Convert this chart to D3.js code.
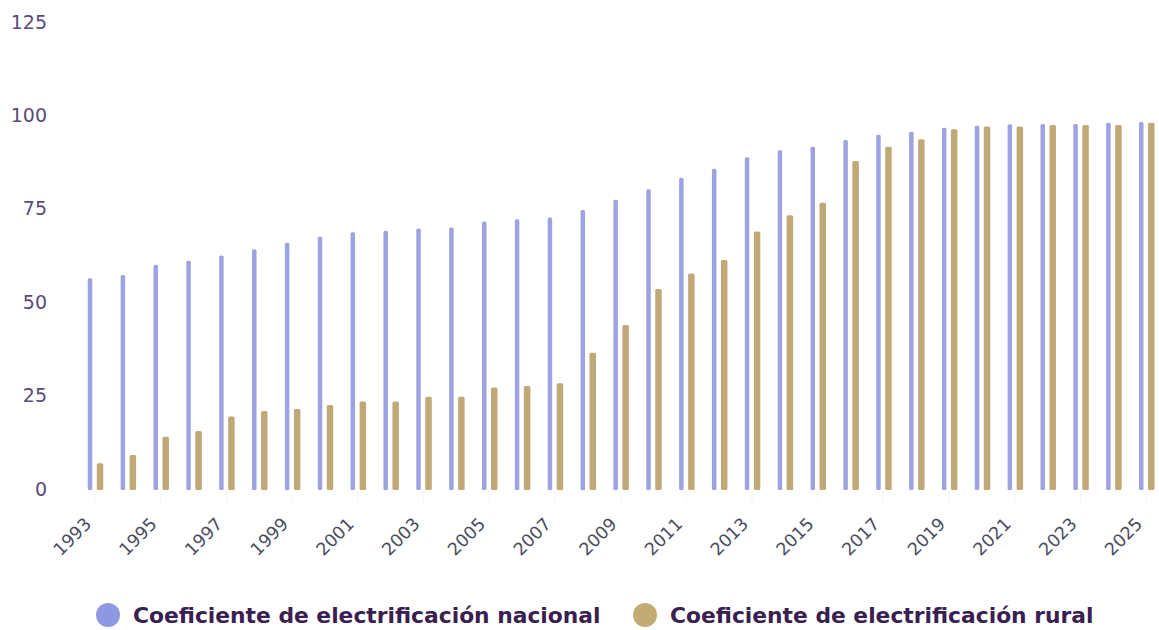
<!DOCTYPE html>
<html><head><meta charset="utf-8">
<script src="https://cdn.jsdelivr.net/npm/d3@7"></script>
<style>body{margin:0;background:#fff;}svg{display:block;}</style>
</head><body>
<svg id="chart" width="1159" height="630"></svg>
<script>
const years = d3.range(1993, 2026).map(String);
const nacional = [56.4,57.3,60.0,61.1,62.5,64.2,65.9,67.5,68.7,69.1,69.7,70.0,71.6,72.2,72.7,74.7,77.4,80.2,83.3,85.7,88.8,90.7,91.6,93.4,94.8,95.6,96.7,97.2,97.6,97.7,97.7,98.0,98.2];
const rural = [6.9,9.1,14.0,15.5,19.4,20.9,21.4,22.5,23.4,23.4,24.7,24.7,27.2,27.6,28.3,36.5,43.9,53.5,57.7,61.3,68.9,73.3,76.6,87.8,91.6,93.6,96.3,97.0,97.0,97.4,97.4,97.4,98.0];
const yTicks = [0,25,50,75,100,125];
const xTickLabels = years.filter((d,i)=>i%2===0);
const seriesNames = ["Coeficiente de electrificación nacional","Coeficiente de electrificación rural"];
const colors = ["#9ca2e2","#c1a877"];

const svg = d3.select("#chart");
const x = d3.scaleBand().domain(years).range([78.6, 1162.7]).padding(0);
const step = x.step();
const xs = d3.scaleBand().domain(["n","r"]).range([step/2-10, step/2+10]);
const y = d3.scaleLinear().domain([0,125]).range([489, 22]);

// y axis labels
const yAxis = d3.axisLeft(y).tickValues(yTicks).tickSize(0).tickPadding(0);
const gy = svg.append("g").attr("transform","translate(47,0)").call(yAxis);
gy.select(".domain").remove();
gy.selectAll("text").attr("font-family","DejaVu Sans, sans-serif").attr("font-size",19).attr("fill","#5a4a7c");

// x axis
const xAxis = d3.axisBottom(x).tickValues(xTickLabels).tickSize(12).tickPadding(2);
const gx = svg.append("g").attr("transform","translate(0,491)").call(xAxis);
gx.select(".domain").remove();
gx.selectAll(".tick line").attr("stroke","#f4f4f7").attr("stroke-width",1);
gx.selectAll("text")
  .attr("font-family","DejaVu Sans, sans-serif").attr("font-size",17.5).attr("fill","#4b4b60")
  .attr("text-anchor","end")
  .attr("transform","translate(-17,20) rotate(-45)")
  .attr("dy","0.35em");

// bars
const data = years.map((yr,i)=>({year:yr, n:nacional[i], r:rural[i]}));
const widths = {n:4.5, r:6.5};
const g = svg.append("g");
["n","r"].forEach((k,si)=>{
  g.selectAll("rect."+k).data(data).join("rect").attr("class",k)
    .attr("x", d=> x(d.year) + xs(k) + xs.bandwidth()/2 - widths[k]/2)
    .attr("width", widths[k])
    .attr("y", d=> y(d[k]))
    .attr("height", d=> y(0) - y(d[k]) + 1)
    .attr("rx", 1.5)
    .attr("fill", colors[si]);
});

// legend
const legendPos = [{cx:108, tx:133},{cx:645, tx:670}];
const lg = svg.append("g");
seriesNames.forEach((s,i)=>{
  lg.append("circle").attr("cx",legendPos[i].cx).attr("cy",615).attr("r",12).attr("fill", i===0?"#8e98e2":"#c3ac74");
  lg.append("text").attr("x",legendPos[i].tx).attr("y",615).attr("dy","0.35em")
    .attr("font-family","DejaVu Sans, sans-serif").attr("font-weight","bold").attr("font-size",21.8)
    .attr("fill","#3a2050").text(s);
});
</script>
</body></html>
